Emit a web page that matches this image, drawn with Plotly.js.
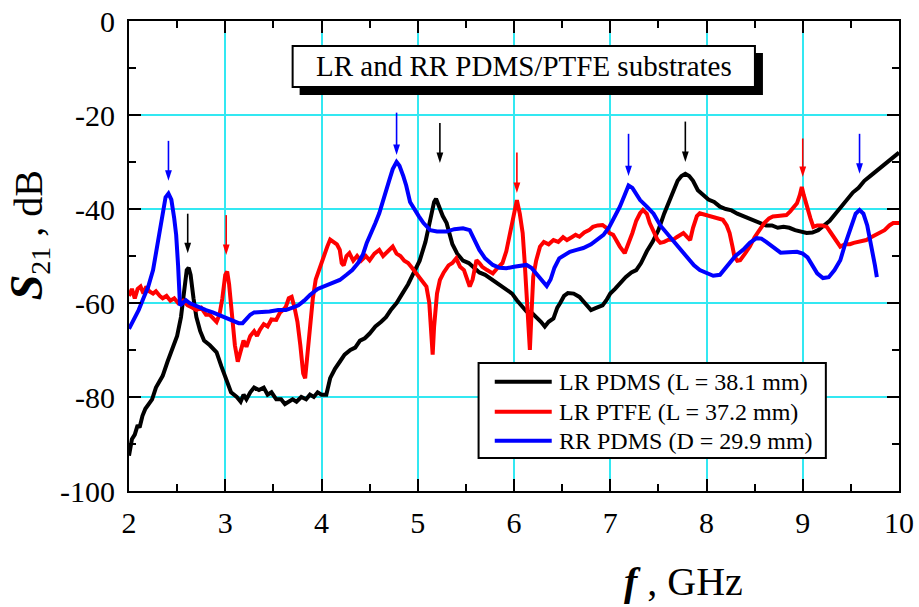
<!DOCTYPE html>
<html>
<head>
<meta charset="utf-8">
<script src="https://cdn.plot.ly/plotly-3.0.1.min.js"></script>
<style>
  html, body { margin: 0; padding: 0; background: #ffffff; }
  #chart { width: 919px; height: 607px; }
</style>
</head>
<body>
<div id="chart"></div>
<script>
// Transmission S21 (dB) versus frequency (GHz) for three resonators.

// LR PDMS (L = 38.1 mm)
const lrPdmsF = [2.00,2.03,2.06,2.09,2.11,2.14,2.17,2.20,2.24,2.28,2.32,2.35,2.40,2.45,2.50,2.54,2.57,2.60,2.62,2.64,2.67,2.70,2.74,2.78,2.84,2.91,2.96,3.01,3.06,3.12,3.16,3.19,3.22,3.26,3.30,3.35,3.40,3.44,3.48,3.53,3.58,3.62,3.66,3.70,3.74,3.79,3.84,3.88,3.92,3.96,4.00,4.05,4.09,4.14,4.19,4.24,4.30,4.35,4.40,4.45,4.50,4.56,4.62,4.67,4.72,4.78,4.84,4.90,4.96,5.02,5.08,5.13,5.17,5.19,5.22,5.26,5.30,5.33,5.36,5.41,5.47,5.53,5.58,5.64,5.70,5.78,5.85,5.92,5.98,6.03,6.08,6.13,6.18,6.23,6.28,6.32,6.36,6.41,6.45,6.48,6.52,6.56,6.62,6.68,6.74,6.80,6.86,6.92,6.96,7.00,7.05,7.10,7.16,7.22,7.27,7.32,7.38,7.44,7.50,7.56,7.61,7.66,7.70,7.74,7.78,7.82,7.86,7.91,7.96,8.02,8.08,8.14,8.20,8.26,8.32,8.38,8.44,8.50,8.56,8.62,8.68,8.74,8.80,8.86,8.92,8.98,9.04,9.10,9.16,9.22,9.28,9.34,9.40,9.46,9.52,9.58,9.64,9.70,9.76,9.82,9.88,9.94,10.00];
const lrPdmsS = [-92.5,-89,-88,-86,-86.5,-84,-82.5,-81.5,-80.5,-78,-76.5,-75.5,-72.5,-70,-67,-63,-57.5,-53,-52.5,-54,-59,-63,-66,-68,-69,-70.5,-73.5,-76.5,-79,-80,-81,-79.5,-80.5,-79,-78,-78.5,-78,-79.5,-79,-80.5,-80.5,-81.5,-81,-80.5,-81,-80,-80.5,-79.5,-80,-79,-79.5,-79.5,-76,-74,-72.5,-71,-70,-69.5,-68,-67.5,-66.5,-65,-64,-63,-61.5,-60,-58,-56,-53.5,-51,-47,-42,-38.5,-37.8,-39.5,-41.5,-43,-45.5,-47.5,-49.5,-51,-51.5,-52.5,-53.5,-54,-55.2,-56,-57.2,-58,-59.4,-60.5,-61.8,-62,-62.9,-64,-65,-64,-63.3,-61,-60,-58.5,-57.9,-58,-58.7,-60,-61.5,-61,-60.5,-59.4,-58,-57,-55.8,-54.5,-53.5,-53,-51.5,-49,-47,-44.5,-41,-38.5,-36,-34,-33,-32.5,-33,-34,-36,-37,-38,-38.5,-39.5,-40,-40.3,-41,-41.5,-42,-42.5,-42.8,-43.5,-43.5,-44,-43.8,-44,-44.5,-44.8,-45.1,-45,-44.5,-43.5,-42.5,-41,-39.5,-38,-36.5,-35.5,-34,-33,-32,-31,-30,-29,-28];

// LR PTFE (L = 37.2 mm)
const lrPtfeF = [2.00,2.03,2.06,2.09,2.12,2.15,2.18,2.21,2.25,2.28,2.32,2.35,2.39,2.43,2.47,2.51,2.56,2.61,2.66,2.70,2.75,2.80,2.84,2.88,2.91,2.94,2.97,3.00,3.02,3.04,3.07,3.10,3.13,3.16,3.19,3.22,3.26,3.30,3.33,3.36,3.40,3.44,3.48,3.53,3.57,3.60,3.63,3.66,3.69,3.72,3.75,3.78,3.81,3.83,3.85,3.88,3.91,3.94,3.98,4.02,4.06,4.09,4.12,4.16,4.19,4.21,4.23,4.26,4.29,4.33,4.37,4.41,4.46,4.50,4.55,4.60,4.64,4.67,4.71,4.74,4.78,4.82,4.86,4.90,4.94,4.98,5.02,5.06,5.09,5.12,5.14,5.155,5.17,5.20,5.23,5.27,5.32,5.36,5.40,5.44,5.48,5.51,5.54,5.57,5.61,5.64,5.67,5.72,5.78,5.83,5.88,5.92,5.96,6.00,6.03,6.06,6.09,6.11,6.13,6.15,6.165,6.18,6.20,6.23,6.27,6.31,6.36,6.41,6.46,6.51,6.55,6.60,6.64,6.68,6.73,6.78,6.82,6.87,6.92,6.96,6.99,7.03,7.07,7.10,7.15,7.19,7.23,7.27,7.31,7.34,7.38,7.41,7.45,7.49,7.52,7.56,7.61,7.65,7.69,7.73,7.76,7.80,7.83,7.86,7.90,7.93,7.98,8.03,8.07,8.12,8.17,8.21,8.24,8.27,8.29,8.32,8.35,8.40,8.45,8.50,8.55,8.60,8.65,8.69,8.74,8.79,8.83,8.87,8.91,8.94,8.97,8.99,9.01,9.03,9.05,9.08,9.11,9.15,9.20,9.25,9.29,9.34,9.39,9.44,9.49,9.53,9.58,9.62,9.66,9.71,9.76,9.80,9.85,9.90,9.94,10.00];
const lrPtfeS = [-58.5,-57,-59,-57,-56.5,-58,-56.5,-57.5,-58,-57.5,-58.5,-59,-58.5,-59.5,-59,-60,-59.5,-60.5,-61,-61.5,-61,-62.5,-62.5,-63.5,-64,-62.5,-59,-54,-53.3,-56,-63,-69,-72.5,-70,-68,-69.3,-67,-66,-67,-65.7,-64.5,-65,-63.5,-63.6,-62,-61.5,-60.8,-59,-58.7,-61,-64,-69,-75,-76,-72,-64,-59,-55,-52.5,-50,-48,-46.5,-47,-47.5,-48.7,-51.5,-52,-50,-49.4,-51,-50,-51,-50,-50.9,-49.5,-48.7,-50,-49.4,-48.5,-48,-49.5,-50,-51,-51.5,-52.5,-53.5,-54.5,-55.5,-56.5,-60,-67,-71,-65,-58,-55.1,-53.5,-52,-51.5,-50.5,-52.3,-53,-54.5,-56.5,-55,-50.9,-51.5,-52.3,-53,-53.7,-52.5,-51.5,-49,-45.1,-40.5,-38.1,-41,-45.1,-51,-59.4,-66,-70,-63,-54.4,-51,-48,-47,-47.5,-46.6,-47,-46,-46.6,-46,-45.5,-45.9,-45,-44.5,-43.8,-43.5,-43.4,-44,-45.1,-45.5,-47,-48,-49.4,-47.5,-45.1,-42.5,-40.9,-40.2,-41,-43,-45,-46.5,-47.2,-47,-46.5,-46.6,-46,-45.5,-45.1,-46,-46.6,-44,-41.5,-40.9,-41.2,-41.5,-41.6,-42,-42.3,-43.5,-45.1,-48,-50.1,-51,-50.9,-49.5,-48,-46,-44.5,-43,-42,-41.6,-41.5,-41.3,-41.3,-40.5,-39.5,-38.8,-37,-35.3,-37,-38.5,-40.2,-42,-43.8,-43.5,-43.5,-43.8,-45,-46.5,-48,-47.5,-47.5,-47.2,-47,-46.8,-46.6,-46,-45.5,-45.1,-44.5,-43.5,-43,-43];

// RR PDMS (D = 29.9 mm)
const rrPdmsF = [2.00,2.05,2.10,2.15,2.20,2.25,2.29,2.32,2.35,2.38,2.41,2.44,2.47,2.49,2.51,2.52,2.53,2.56,2.59,2.63,2.68,2.74,2.80,2.87,2.94,3.01,3.08,3.14,3.18,3.22,3.26,3.30,3.38,3.46,3.55,3.63,3.70,3.76,3.82,3.88,3.96,4.05,4.12,4.19,4.26,4.32,4.38,4.43,4.47,4.52,4.56,4.60,4.64,4.68,4.71,4.74,4.78,4.81,4.85,4.88,4.92,4.96,5.01,5.06,5.13,5.20,5.30,5.38,5.47,5.54,5.59,5.64,5.70,5.78,5.85,5.92,6.00,6.07,6.13,6.18,6.23,6.28,6.34,6.38,6.42,6.47,6.52,6.58,6.65,6.72,6.80,6.86,6.93,6.99,7.05,7.10,7.15,7.19,7.23,7.27,7.31,7.38,7.45,7.52,7.58,7.65,7.72,7.80,7.87,7.93,8.00,8.07,8.14,8.19,8.24,8.30,8.38,8.45,8.52,8.57,8.62,8.68,8.77,8.85,8.94,9.00,9.05,9.10,9.15,9.21,9.27,9.33,9.39,9.44,9.50,9.55,9.59,9.63,9.67,9.70,9.73,9.75,9.77];
const rrPdmsS = [-65.5,-63.5,-61.5,-59,-56.5,-53,-48,-44,-40.5,-37.5,-36.7,-38,-42,-45.5,-52,-57,-60.5,-60,-59.4,-60,-60.5,-61,-61.5,-62,-62.6,-63,-63.6,-64.3,-64.3,-63.5,-62.5,-62,-62,-61.8,-61.5,-61.5,-61,-60.5,-59.5,-58.3,-57,-56.2,-55.5,-55.1,-54,-53,-51.5,-49.7,-47.2,-45,-43,-40.9,-38.5,-35.5,-33.5,-31.5,-30,-30.8,-33,-35,-38.5,-40,-41.5,-43,-44.5,-44.8,-44.8,-44.3,-44.1,-44.5,-46.5,-48.7,-50.5,-51.9,-52.5,-52.6,-52.3,-52,-51.9,-52.5,-53.7,-55,-56.4,-55,-52.5,-50.5,-49.8,-49.1,-48.7,-48.3,-47.5,-46.6,-45.5,-43.8,-41.5,-39.5,-37,-35,-35.5,-37,-38.1,-39.5,-41,-43.5,-45,-46.5,-48.3,-50.5,-52,-53,-53.7,-54.2,-54,-52.8,-51.5,-50,-48.7,-47.2,-46.2,-46.3,-47,-48,-49.3,-49.2,-49.1,-49.5,-50.3,-52,-53.7,-54.7,-54.5,-53,-50.9,-47.5,-43.8,-41,-40.2,-41,-43.5,-46.5,-49.4,-52,-54.5];

// Resonance markers: arrow position, stem top and tip level (dB)
const blueArrowF   = [2.41, 4.78, 7.19, 9.59];
const blueArrowTop = [-25.5, -19.5, -24, -24];
const blueArrowTip = [-34, -28.5, -33, -32.5];
const blackArrowF   = [2.61, 5.23, 7.78];
const blackArrowTop = [-41, -21.7, -21.4];
const blackArrowTip = [-49.4, -30.2, -30];
const redArrowF   = [3.01, 6.03, 9.00];
const redArrowTop = [-41.3, -28, -25];
const redArrowTip = [-49.8, -36.6, -33.2];

// Axis ticks (labels written with a plain hyphen)
const xTickVals = [2, 3, 4, 5, 6, 7, 8, 9, 10];
const xTickText = ['2', '3', '4', '5', '6', '7', '8', '9', '10'];
const yTickVals = [0, -20, -40, -60, -80, -100];
const yTickText = ['0', '-20', '-40', '-60', '-80', '-100'];

const seriesNames = ['LR PDMS (L = 38.1 mm)', 'LR PTFE (L = 37.2 mm)', 'RR PDMS (D = 29.9 mm)'];
const seriesColors = ['#000000', '#ff0000', '#0000ff'];
const boxTitle = 'LR and RR PDMS/PTFE substrates';

const SERIF = '"Liberation Serif", "Times New Roman", serif';
const GRID = '#33e8f2';

function curve(x, y, color, name) {
  return {
    x: x, y: y, type: 'scatter', mode: 'lines', name: name,
    line: { color: color, width: 4, shape: 'linear' },
    showlegend: false, hoverinfo: 'x+y'
  };
}

function arrowTraces(f, top, tip, color) {
  const sx = [], sy = [];
  f.forEach((v, i) => { sx.push(v, v, null); sy.push(top[i], tip[i] + 1.5, null); });
  return [
    { x: sx, y: sy, type: 'scatter', mode: 'lines', line: { color: color, width: 1.6 },
      showlegend: false, hoverinfo: 'skip' },
    { x: f, y: tip, type: 'scatter', mode: 'markers',
      marker: { symbol: 'arrow', angle: 180, size: 11, color: color, line: { width: 0 } },
      showlegend: false, hoverinfo: 'skip' }
  ];
}

const data = [
  curve(lrPdmsF, lrPdmsS, seriesColors[0], seriesNames[0]),
  curve(lrPtfeF, lrPtfeS, seriesColors[1], seriesNames[1]),
  curve(rrPdmsF, rrPdmsS, seriesColors[2], seriesNames[2]),
  ...arrowTraces(blueArrowF, blueArrowTop, blueArrowTip, seriesColors[2]),
  ...arrowTraces(blackArrowF, blackArrowTop, blackArrowTip, seriesColors[0]),
  ...arrowTraces(redArrowF, redArrowTop, redArrowTip, seriesColors[1])
];

// Legend box drawn in paper coordinates
const legRows = [0.2326, 0.1687, 0.107];
const shapes = [
  // title box shadow and box
  { type: 'rect', xref: 'paper', yref: 'paper', x0: 0.2216, x1: 0.8233, y0: 0.8426, y1: 0.9319,
    fillcolor: '#000000', line: { width: 0 }, layer: 'above' },
  { type: 'rect', xref: 'paper', yref: 'paper', x0: 0.2125, x1: 0.8129, y0: 0.8596, y1: 0.9468,
    fillcolor: '#ffffff', line: { color: '#000000', width: 2 }, layer: 'above' },
  // legend frame
  { type: 'rect', xref: 'paper', yref: 'paper', x0: 0.454, x1: 0.905, y0: 0.0702, y1: 0.2723,
    fillcolor: '#ffffff', line: { color: '#000000', width: 2 }, layer: 'above' }
];
legRows.forEach((yy, i) => {
  shapes.push({ type: 'line', xref: 'paper', yref: 'paper', x0: 0.475, x1: 0.549, y0: yy, y1: yy,
    line: { color: seriesColors[i], width: 4 }, layer: 'above' });
});

const annotations = [
  { text: boxTitle, xref: 'paper', yref: 'paper', x: 0.5127, y: 0.9032,
    xanchor: 'center', yanchor: 'middle', showarrow: false,
    font: { family: SERIF, size: 29, color: '#000000' } },
  { text: '<b><i>f</i></b> , GHz', xref: 'paper', yref: 'paper', x: 0.7206, y: -0.193,
    xanchor: 'center', yanchor: 'middle', showarrow: false,
    font: { family: SERIF, size: 40, color: '#000000' } },
  { text: '<b><i><span style="font-size:46px">S</span></i></b><sub>21</sub> , dB', xref: 'paper', yref: 'paper',
    x: -0.1306, y: 0.545, textangle: -90,
    xanchor: 'center', yanchor: 'middle', showarrow: false,
    font: { family: SERIF, size: 40, color: '#000000' } }
];
legRows.forEach((yy, i) => {
  annotations.push({ text: seriesNames[i], xref: 'paper', yref: 'paper', x: 0.5556, y: yy,
    xanchor: 'left', yanchor: 'middle', showarrow: false,
    font: { family: SERIF, size: 24, color: '#000000' } });
});

const axisCommon = {
  ticks: 'inside', ticklen: 12, tickwidth: 2, tickcolor: '#000000',
  showline: true, linewidth: 2, linecolor: '#000000', mirror: 'ticks',
  showgrid: true, gridcolor: GRID, gridwidth: 2, zeroline: false,
  tickfont: { family: SERIF, size: 30, color: '#000000' }
};

const layout = {
  width: 919, height: 607,
  margin: { l: 129, r: 20, t: 21, b: 116 },
  paper_bgcolor: '#ffffff', plot_bgcolor: '#ffffff',
  showlegend: false,
  xaxis: Object.assign({}, axisCommon, {
    range: [2, 10], tickmode: 'array', tickvals: xTickVals, ticktext: xTickText, ticklabelstandoff: 4,
    minor: { dtick: 0.5, tick0: 2, ticks: 'inside', ticklen: 7, tickwidth: 2, tickcolor: '#000000', showgrid: false }
  }),
  yaxis: Object.assign({}, axisCommon, {
    range: [-100, 0], tickmode: 'array', tickvals: yTickVals, ticktext: yTickText, ticklabelstandoff: 6,
    minor: { dtick: 10, tick0: 0, ticks: 'inside', ticklen: 7, tickwidth: 2, tickcolor: '#000000', showgrid: false }
  }),
  shapes: shapes,
  annotations: annotations
};

Plotly.newPlot('chart', data, layout, { displayModeBar: false, staticPlot: true });
</script>
</body>
</html>
